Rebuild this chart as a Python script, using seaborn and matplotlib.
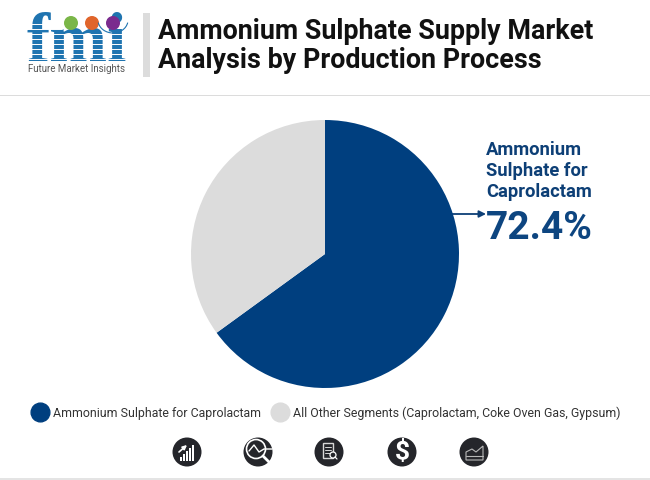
import matplotlib.pyplot as plt
from matplotlib.lines import Line2D
from matplotlib.patches import Arc, Circle, Rectangle, Polygon
import seaborn as sns

# values as drawn in the pie (callout says 72.4 though)
segments = ["Ammonium Sulphate for Caprolactam", "All Other Segments (Caprolactam, Coke Oven Gas, Gypsum)"]
shares = [65, 35]
callout_lines = "Ammonium\nSulphate for\nCaprolactam"
callout_value = "72.4%"
title_lines = "Ammonium Sulphate Supply Market\nAnalysis by Production Process"
colors = ["#003f7f", "#dcdcdc"]
icon_x = [187, 258, 329, 402, 474]

sns.set_theme(style="white")
plt.rcParams["font.family"] = ["Roboto", "DejaVu Sans"]

fig = plt.figure(figsize=(6.5, 4.8), dpi=100, facecolor="w")

# overlay in pixel coordinates for header, logo, icons
bg = fig.add_axes([0, 0, 1, 1])
bg.set_xlim(0, 650)
bg.set_ylim(480, 0)
bg.axis("off")

# pie
ax = fig.add_axes([191 / 650, (480 - 388) / 480, 268 / 650, 268 / 480])
ax.pie(shares, colors=colors, startangle=90, counterclock=False, radius=1.0,
       wedgeprops=dict(lw=0))
ax.set_xlim(-1, 1)
ax.set_ylim(-1, 1)

# header
bg.add_patch(Rectangle((143, 13), 7, 64, color="#dcdcdc", lw=0))
bg.add_patch(Rectangle((0, 94.5), 650, 1.8, color="#dcdcdc", lw=0))
bg.add_patch(Rectangle((0, 478), 650, 2, color="#e4e4e4", lw=0))
bg.text(158, 46, title_lines, fontsize=19.4, fontweight="bold", color="#111111",
        va="center", ha="left", linespacing=1.12)

# logo
bg.text(76.5, 61, "fmi", family="Liberation Serif", fontsize=50, fontweight="bold",
        color="#1f74b0", ha="center", va="baseline", zorder=3)
for y in range(24, 64, 5):
    x_end = 62 if y < 32 else 130
    bg.plot([24, x_end], [y, y], color="w", lw=0.7, zorder=4)
for x, c in zip([71, 92, 113], ["#7ab648", "#e0652b", "#7a2b8e"]):
    bg.add_patch(Circle((x, 23), 7, color=c, lw=0, zorder=5))
bg.add_patch(Arc((113, 20), 30, 26, theta1=10, theta2=170, ec="#1f74b0", lw=0.8, zorder=5))
bg.text(76, 68.5, "Future Market Insights", fontsize=7.0, color="#555555", ha="center", va="center", zorder=6)

# callout
bg.text(486, 171, callout_lines, fontsize=13.2, fontweight="bold", color="#0d3f76",
        ha="left", va="center", linespacing=1.2)
bg.text(486, 228.5, callout_value, fontsize=28, fontweight="bold", color="#0d4580",
        ha="left", va="center")
bg.annotate("", xy=(486, 214), xytext=(452, 214),
            arrowprops=dict(arrowstyle="-|>", color="#0d3f76", lw=1.3, mutation_scale=10,
                            shrinkA=0, shrinkB=0))

# legend
handles = [Line2D([], [], ls="", marker="o", ms=13.5, color=c) for c in colors]
fig.legend(handles, segments, loc="center", bbox_to_anchor=(325.5 / 650, (480 - 413) / 480), ncol=2,
           frameon=False, fontsize=8.9, labelcolor="#333333", handletextpad=0.35,
           columnspacing=0.75, handlelength=1.5, borderpad=0, borderaxespad=0)

# bottom icons
for x in icon_x:
    bg.add_patch(Circle((x, 452), 14.5, color="#25262b", lw=0))
# bars
for i, h in enumerate([4, 7, 10, 13, 16]):
    bg.add_patch(Rectangle((179.5 + i * 3.2, 461 - h), 2, h, color="w", lw=0))
bg.annotate("", xy=(187, 445), xytext=(179, 452),
            arrowprops=dict(arrowstyle="-|>", color="w", lw=1.2, mutation_scale=6, shrinkA=0, shrinkB=0))
# magnifier
bg.add_patch(Circle((256, 449), 9.5, fill=False, ec="w", lw=1.2))
bg.plot([249, 254, 259, 264, 272], [451, 445, 452, 449, 449], color="w", lw=1)
bg.plot([263, 271], [456, 464], color="w", lw=2)
# report
bg.add_patch(Rectangle((323, 443), 10, 15, fill=False, ec="#d8d8d8", lw=1))
for y in [447, 450, 453]:
    bg.plot([325, 331], [y, y], color="#d8d8d8", lw=0.7)
bg.add_patch(Circle((333, 455), 3, fc="#25262b", ec="w", lw=0.9, zorder=3))
bg.plot([335, 337], [457, 459], color="w", lw=0.9, zorder=3)
# dollar
bg.text(402, 451.5, "$", fontsize=19, fontweight="bold", color="w", ha="center", va="center")
# area chart
bg.add_patch(Polygon([(466, 460), (466, 452), (472, 449), (476, 452), (483, 446), (483, 460)],
                     fill=False, ec="#b8b8b8", lw=0.8))
bg.plot([466, 483], [456, 456], color="#b8b8b8", lw=0.8)

fig.savefig("out.png", dpi=100)
